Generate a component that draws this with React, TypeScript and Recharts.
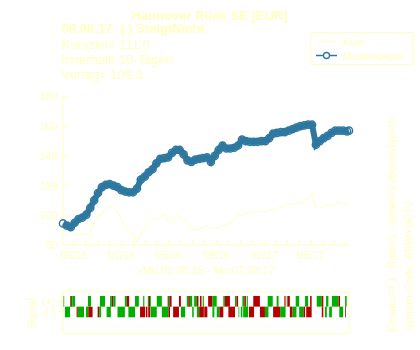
import React from 'react';
import { ComposedChart, Line, XAxis, YAxis, ReferenceArea } from 'recharts';

const FONT = '"Liberation Sans", Arial, Helvetica, sans-serif';
const YELLOW = '#ffffc0';
const BLUE = '#2e78a0';
const GREEN = '#00b000';
const RED = '#b40000';

const START = Date.UTC(2015, 7, 3);
const DAY_MS = 86400000;

// sampling days (offset from 03.08.15)
const days = [
  0, 10, 20, 30, 40, 50, 60, 70, 80, 90,
  100, 110, 120, 130, 140, 150, 160, 170, 180, 190,
  200, 210, 220, 230, 240, 250, 260, 270, 280, 290,
  300, 310, 320, 330, 340, 350, 360, 370, 380, 390,
  400, 410, 420, 430, 440, 450, 460, 470, 480, 490,
  500, 510, 520, 530, 540, 550, 560, 570, 580, 590,
  600, 610, 620, 630, 640, 650, 660, 670, 680, 690,
  700, 710, 720, 730, 735,
];

const musterdepot = [
  94.5, 93, 92, 95, 97.5, 98.5, 100.5, 105, 110, 115,
  119, 120.5, 121, 120, 119, 117, 116, 115.5, 115.5, 118,
  124, 126, 129, 131, 135, 138, 138.5, 139, 142, 144,
  144, 141, 137, 136, 137.5, 138, 138.5, 139, 136, 140,
  144, 147, 145, 145, 145.5, 147, 151, 150, 149.5, 149.5,
  149.5, 150, 150, 152, 155, 155.5, 156, 156, 157, 158,
  159, 160, 160.5, 161, 161, 147.5, 150, 152, 153.5, 155.5,
  157, 157, 157, 156.5, 157,
];

const kurs: (number | null)[] = [
  null, null, 85, 88, 89, 87, 88, 86, 96, 100,
  101, 104, 106, 105, 102, 97, 93, 90, 88, 82,
  88, 92, 96, 98, 97, 99, 101, 96, 97, 100,
  99, 97, 95, 91, 90, 91, 92, 93, 91, 92,
  91, 93, 94, 95, 97, 101, 100, 101, 102, 103,
  102, 103, 102, 103, 104, 105, 105, 107, 108, 107,
  108, 108, 110, 111, 115, 105, 105, 106, 107, 106,
  108, 109, 107, 107, 109.3,
];

const xTickLabels = ['09/15', '01/16', '05/16', '09/16', '01/17', '05/17'];
const xTickMonths: [number, number][] = [[2015, 8], [2016, 0], [2016, 4], [2016, 8], [2017, 0], [2017, 4]];
const yTicks = [80, 100, 120, 140, 160, 180];

// [fromDay, toDay, colour]  g = green, r = red
const signalTop: [number, number, string][] = [
  [0, 3, 'g'], [18, 21, 'g'], [21, 24, 'r'], [24, 31, 'g'], [64, 72, 'g'], [95, 108, 'g'],
  [121, 125, 'g'], [125, 129, 'r'], [129, 135, 'g'], [159, 164, 'g'], [164, 170, 'r'],
  [185, 195, 'g'], [206, 209, 'g'], [218, 221, 'g'], [221, 224, 'r'], [224, 226, 'g'],
  [241, 254, 'g'], [269, 272, 'r'], [272, 275, 'g'], [275, 279, 'r'], [298, 303, 'r'],
  [318, 322, 'g'], [322, 326, 'r'], [326, 332, 'g'], [337, 344, 'g'], [344, 348, 'r'],
  [352, 356, 'r'], [359, 362, 'g'], [373, 384, 'r'], [384, 395, 'g'], [412, 416, 'g'],
  [416, 429, 'r'], [442, 446, 'g'], [446, 450, 'r'], [461, 466, 'g'], [466, 470, 'r'],
  [472, 475, 'g'], [489, 506, 'r'], [526, 539, 'g'], [549, 554, 'g'], [569, 572, 'r'],
  [575, 577, 'g'], [577, 583, 'r'], [598, 607, 'g'], [622, 630, 'g'], [635, 639, 'r'],
  [652, 665, 'g'], [665, 669, 'r'], [676, 682, 'g'], [691, 708, 'g'], [708, 712, 'r'],
  [725, 729, 'g'],
];

const signalBottom: [number, number, string][] = [
  [5, 18, 'g'], [35, 38, 'r'], [38, 54, 'g'], [59, 65, 'g'], [65, 76, 'r'], [89, 93, 'r'],
  [93, 98, 'g'], [112, 123, 'g'], [140, 159, 'g'], [168, 185, 'g'], [198, 211, 'r'],
  [213, 217, 'r'], [219, 224, 'r'], [225, 241, 'g'], [254, 271, 'g'], [271, 275, 'r'],
  [283, 298, 'r'], [303, 314, 'g'], [332, 336, 'g'], [344, 350, 'g'], [350, 362, 'r'],
  [363, 371, 'r'], [384, 389, 'g'], [395, 402, 'g'], [402, 412, 'r'], [425, 442, 'r'],
  [451, 453, 'g'], [457, 461, 'g'], [463, 476, 'g'], [478, 491, 'r'], [506, 519, 'r'],
  [519, 528, 'g'], [540, 558, 'r'], [558, 572, 'g'], [583, 590, 'r'], [590, 600, 'g'],
  [607, 618, 'g'], [618, 622, 'r'], [625, 639, 'r'], [665, 669, 'r'], [673, 678, 'g'],
  [684, 691, 'g'], [710, 720, 'g'], [725, 727, 'r'],
];

const dayOf = (y: number, m: number) => Math.round((Date.UTC(y, m, 1) - START) / DAY_MS);
const xTickDays = xTickMonths.map(([y, m]) => dayOf(y, m));
const monthTicks: number[] = [];
for (let k = 0; k < 24; k++) monthTicks.push(dayOf(2015, 8 + k));

const table = days.map((d, i) => ({ day: d, kurs: kurs[i], muster: musterdepot[i] }));

const XTick = (props: any) => {
  const { x, y, payload } = props;
  const idx = xTickDays.indexOf(payload.value);
  return (
    <g>
      <line x1={x} x2={x} y1={y} y2={y - 5} stroke={YELLOW} />
      {idx >= 0 && (
        <text x={x} y={y + 13.8} textAnchor="middle" fill={YELLOW} fontSize={11} fontFamily={FONT}>
          {xTickLabels[idx]}
        </text>
      )}
    </g>
  );
};

const YTick = (props: any) => {
  const { x, y, payload } = props;
  return (
    <g>
      <line x1={x} x2={x + 5} y1={y} y2={y} stroke={YELLOW} />
      <text x={x - 5} y={y} dy="0.355em" textAnchor="end" fill={YELLOW} fontSize={11} fontFamily={FONT}>
        {payload.value}
      </text>
    </g>
  );
};

const txt = { fill: YELLOW, fontFamily: FONT } as const;

export default function App() {
  return (
    <div style={{ position: 'fixed', left: 0, top: 0, width: 420, height: 350, background: '#ffffff' }}>
      <div style={{ position: 'absolute', left: 0, top: 0 }}>
        <ComposedChart width={420} height={350} data={table} margin={{ top: 96.5, right: 71, bottom: 75, left: 23 }}>
          <XAxis
            dataKey="day" type="number" domain={[0, 735]} ticks={monthTicks} interval={0}
            tick={<XTick />} tickLine={false} tickSize={0} tickMargin={0}
            axisLine={{ stroke: YELLOW }} height={30}
          />
          <XAxis
            xAxisId="top" orientation="top" mirror dataKey="day" type="number" domain={[0, 735]}
            allowDataOverflow ticks={monthTicks} interval={0} tick={false}
            tickLine={{ stroke: YELLOW }} tickSize={5} axisLine={{ stroke: YELLOW }} height={0}
          />
          <YAxis
            type="number" domain={[80, 180]} ticks={yTicks} interval={0} tick={<YTick />}
            tickLine={false} tickSize={0} tickMargin={0} axisLine={{ stroke: YELLOW }} width={40}
          />
          <YAxis
            yAxisId="right" orientation="right" mirror type="number" domain={[80, 180]}
            allowDataOverflow ticks={yTicks} interval={0} tick={false}
            tickLine={{ stroke: YELLOW }} tickSize={5} axisLine={{ stroke: YELLOW }} width={0}
          />
          <Line dataKey="kurs" stroke={YELLOW} strokeWidth={1} dot={false} isAnimationActive={false} />
          <Line
            dataKey="muster" stroke={BLUE} strokeWidth={6}
            dot={{ r: 3.6, stroke: BLUE, strokeWidth: 1.5, fill: 'none' }}
            isAnimationActive={false}
          />
        </ComposedChart>
      </div>
      <div style={{ position: 'absolute', left: 0, top: 285 }}>
        <ComposedChart width={420} height={60} data={table} margin={{ top: 6.7, right: 71, bottom: 11.7, left: 23 }}>
          <XAxis dataKey="day" type="number" domain={[0, 735]} allowDataOverflow hide />
          <YAxis
            type="number" domain={[-2.5, 1.4]} allowDataOverflow ticks={[0.5, -0.5]} interval={0}
            tickFormatter={(v: number) => (v > 0 ? '(+)' : '(-)')}
            tick={{ fill: YELLOW, fontSize: 11, fontFamily: FONT }}
            tickLine={{ stroke: YELLOW }} tickSize={5} tickMargin={2} axisLine={false} width={40}
          />
          {signalTop.map(([a, b, c], i) => (
            <ReferenceArea key={'t' + i} x1={a} x2={b} y1={0} y2={1} fill={c === 'g' ? GREEN : RED} fillOpacity={1} stroke="none" />
          ))}
          {signalBottom.map(([a, b, c], i) => (
            <ReferenceArea key={'b' + i} x1={a} x2={b} y1={-1} y2={0} fill={c === 'g' ? GREEN : RED} fillOpacity={1} stroke="none" />
          ))}
          <ReferenceArea x1={0} x2={735} y1={-2.5} y2={1.4} fill="none" fillOpacity={0} stroke={YELLOW} />
        </ComposedChart>
      </div>
      <svg width={420} height={350} style={{ position: 'absolute', left: 0, top: 0, pointerEvents: 'none' }}>
        <text x={210} y={19.5} textAnchor="middle" fontSize={13} fontWeight="bold" {...txt}>Hannover Rück SE [EUR]</text>
        <text x={62} y={33} fontSize={13} fontWeight="bold" {...txt}>08.08.17: (.) SteigtNicht</text>
        <text x={62} y={48.5} fontSize={13} {...txt}>Kursziel= 111.0</text>
        <text x={62} y={64} fontSize={13} {...txt}>innerhalb 10-Tagen</text>
        <text x={62} y={79} fontSize={13} {...txt}>Vortag= 109.3</text>

        <rect x={310.5} y={32.5} width={102.5} height={32} fill="none" stroke={YELLOW} />
        <line x1={316} x2={337} y1={41.5} y2={41.5} stroke={YELLOW} />
        <text x={343} y={45.5} fontSize={11} {...txt}>Kurs</text>
        <line x1={316} x2={337} y1={55.5} y2={55.5} stroke={BLUE} strokeWidth={1.5} />
        <circle cx={326.5} cy={55.5} r={3} fill="#ffffff" stroke={BLUE} strokeWidth={1.3} />
        <text x={343} y={59.5} fontSize={11} {...txt}>Musterdepot</text>

        <text x={206} y={274} textAnchor="middle" fontSize={11} {...txt}>»Mo,03.08.15 - Mo,07.08.17</text>
        <text transform="translate(395.5,332) rotate(-90)" fontSize={10.5} {...txt}>Einsatz=0.1 , Rate=1 , Hebel=3 (BenchTyp=0)</text>
        <text transform="translate(412.5,332) rotate(-90)" fontSize={11} {...txt}>System-Code: AEWY0CTJ</text>
        <text transform="translate(35.5,313.5) rotate(-90)" textAnchor="middle" fontSize={11} {...txt}>Signal</text>
      </svg>
    </div>
  );
}
